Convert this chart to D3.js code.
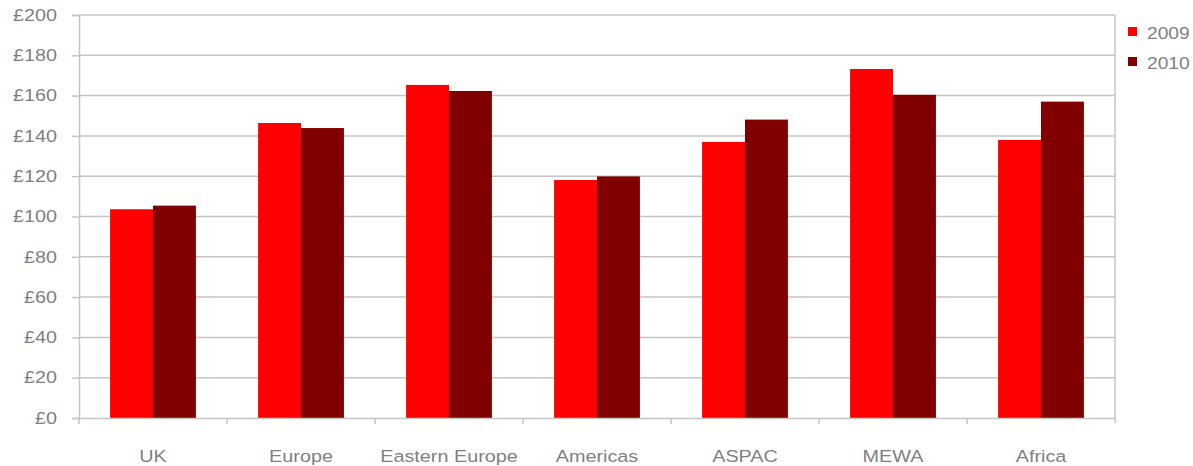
<!DOCTYPE html>
<html>
<head>
<meta charset="utf-8">
<script src="https://cdn.jsdelivr.net/npm/d3@7"></script>
<style>
  body { margin: 0; background: #fff; }
  text { font-family: "Liberation Sans", Arial, sans-serif; fill: #7f7f7f; }
</style>
</head>
<body>
<svg id="chart" width="1193" height="466"></svg>
<script>
// regions and yearly values (GBP)
var regions = ["UK", "Europe", "Eastern Europe", "Americas", "ASPAC", "MEWA", "Africa"];
var years = ["2009", "2010"];
var values2009 = [103.6, 146.4, 165.3, 118.1, 137.0, 173.2, 138.0];
var values2010 = [105.4, 143.9, 162.3, 119.9, 148.1, 160.4, 157.0];
var yTicks = [0, 20, 40, 60, 80, 100, 120, 140, 160, 180, 200];
var colors = ["#ff0000", "#800000"];

// the original text is a bit stretched sideways
var stretch = 1.2;

var margin = {top: 15, right: 78, bottom: 48, left: 79};
var width = 1193 - margin.left - margin.right,
    height = 466 - margin.top - margin.bottom;

var svg = d3.select("#chart");
var g = svg.append("g")
    .attr("transform", "translate(" + margin.left + "," + margin.top + ")");

var data = regions.map(function(r, i) {
  return {region: r, vals: [values2009[i], values2010[i]]};
});

var x0 = d3.scaleBand().domain(regions).range([0, width]);
var groupW = x0.bandwidth() * 0.58;
var x1 = d3.scaleBand().domain(years).range([0, groupW]);
var y = d3.scaleLinear().domain([0, 200]).range([height, 0]);

// gridlines
g.selectAll(".grid").data(yTicks.slice(1)).enter().append("line")
  .attr("x1", 0).attr("x2", width)
  .attr("y1", function(d) { return y(d); })
  .attr("y2", function(d) { return y(d); })
  .attr("stroke", "#c4c4c4").attr("stroke-width", 1.5);

// right border
g.append("line")
  .attr("x1", width).attr("x2", width).attr("y1", 0).attr("y2", height + 5)
  .attr("stroke", "#c4c4c4").attr("stroke-width", 1.5);

// bars
var grp = g.selectAll(".region").data(data).enter().append("g")
  .attr("class", "region")
  .attr("transform", function(d) {
    return "translate(" + (x0(d.region) + (x0.bandwidth() - groupW) / 2) + ",0)";
  });

grp.selectAll("rect").data(function(d) { return d.vals; }).enter().append("rect")
  .attr("x", function(d, i) { return x1(years[i]); })
  .attr("y", function(d) { return y(d); })
  .attr("width", x1.bandwidth())
  .attr("height", function(d) { return height - y(d); })
  .attr("fill", function(d, i) { return colors[i]; });

// y axis
var yAxis = d3.axisLeft(y).tickValues(yTicks).tickSize(7)
  .tickFormat(function(d) { return "£" + d; });
var ya = g.append("g").call(yAxis);
ya.select(".domain").attr("stroke", "#c4c4c4").attr("stroke-width", 1.5);
ya.selectAll(".tick line").attr("stroke", "#c4c4c4").attr("stroke-width", 1.5);
ya.selectAll(".tick text")
  .style("font-size", "16.5px").attr("fill", "#7f7f7f")
  .attr("x", -22 / stretch)
  .attr("transform", "scale(" + stretch + ",1)");

// x axis
var xAxis = d3.axisBottom(x0).tickSize(0).tickPadding(32);
var xa = g.append("g").attr("transform", "translate(0," + height + ")").call(xAxis);
xa.select(".domain").attr("stroke", "#c4c4c4").attr("stroke-width", 1.5);
xa.selectAll(".tick text")
  .style("font-size", "16.5px").attr("fill", "#7f7f7f")
  .attr("transform", "scale(" + stretch + ",1)");

// category separators
g.selectAll(".sep").data(regions).enter().append("line")
  .attr("x1", function(d) { return x0(d); })
  .attr("x2", function(d) { return x0(d); })
  .attr("y1", height).attr("y2", height + 6)
  .attr("stroke", "#c4c4c4").attr("stroke-width", 1.5);

// legend
var leg = svg.append("g").attr("transform", "translate(1128,27)");
years.forEach(function(yr, i) {
  var row = leg.append("g").attr("transform", "translate(0," + (i * 30) + ")");
  row.append("rect").attr("width", 9).attr("height", 9).attr("fill", colors[i]);
  row.append("text").attr("x", 19 / stretch).attr("y", 12).text(yr)
    .attr("transform", "scale(" + stretch + ",1)")
    .style("font-size", "16px");
});
</script>
</body>
</html>
